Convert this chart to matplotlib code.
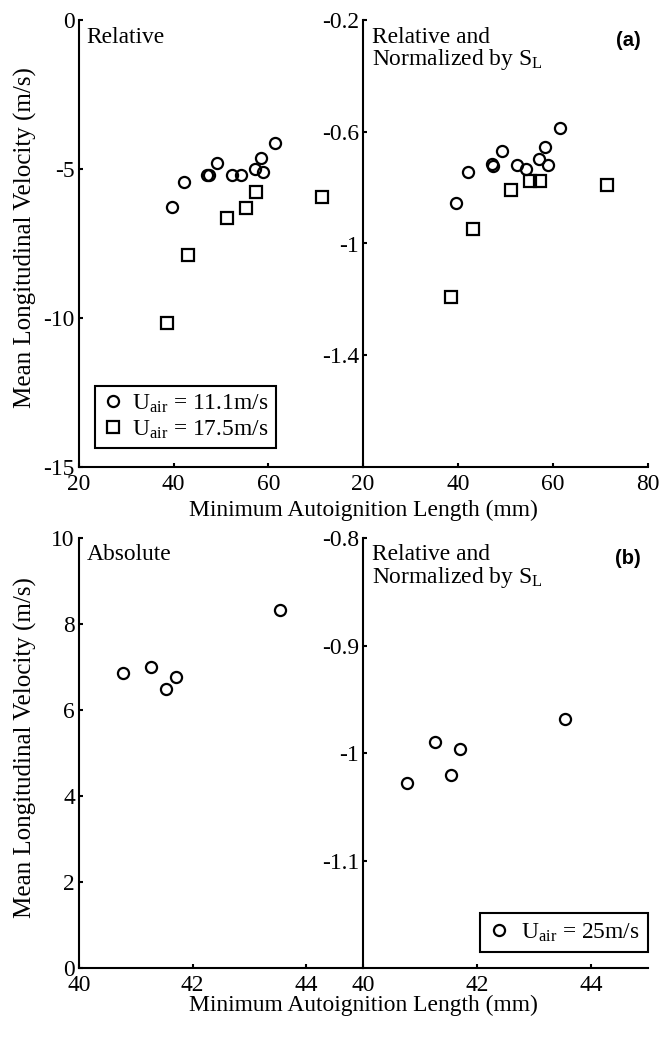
import matplotlib
matplotlib.use("Agg")
import matplotlib.pyplot as plt

# ---- data ----
# panel (a): two air velocities
len_a_111 = [39.6, 42.2, 47.1, 47.4, 49.2, 52.4, 54.3, 57.1, 58.4, 58.9, 61.5]
vel_a_111 = [-6.27, -5.43, -5.2, -5.2, -4.81, -5.2, -5.2, -5.01, -4.64, -5.09, -4.12]
norm_a_111 = [-0.855, -0.744, -0.714, -0.722, -0.668, -0.72, -0.734, -0.699, -0.654, -0.72, -0.585]

len_a_175 = [38.5, 43.1, 51.2, 55.2, 57.3, 71.3]
vel_a_175 = [-10.18, -7.89, -6.66, -6.32, -5.76, -5.95]
norm_a_175 = [-1.192, -0.949, -0.809, -0.776, -0.776, -0.789]

# panel (b): U_air = 25 m/s
len_b = [40.77, 41.26, 41.54, 41.71, 43.54]
vel_b = [6.85, 7.01, 6.5, 6.77, 8.33]
norm_b = [-1.028, -0.990, -1.020, -0.996, -0.968]

# tick labels
xt_a_left = [20, 40, 60]
xt_a_right = [20, 40, 60, 80]
yt_a_left = [0, -5, -10, -15]
yt_a_right = [-0.2, -0.6, -1, -1.4]
xt_b = [40, 42, 44]
yt_b_left = [0, 2, 4, 6, 8, 10]
yt_b_right = [-0.8, -0.9, -1, -1.1]

plt.rcParams["font.family"] = "Liberation Serif"
plt.rcParams["mathtext.fontset"] = "custom"
plt.rcParams["mathtext.rm"] = "Liberation Serif"
FS = 16.9

fig = plt.figure(figsize=(6.61, 10.43), dpi=100)

W, H = 661, 1043


def px_axes(x0, x1, ytop, ybot):
    return fig.add_axes([x0 / W, (H - ybot) / H, (x1 - x0) / W, (ybot - ytop) / H])


def style(ax, xlim, ylim, xt, yt):
    ax.set_xlim(xlim)
    ax.set_ylim(ylim)
    ax.set_xticks(xt)
    ax.set_xticklabels([f"{v:g}" for v in xt])
    ax.set_yticks(yt)
    ax.set_yticklabels([f"{v:g}" for v in yt])
    ax.spines["top"].set_visible(False)
    ax.spines["right"].set_visible(False)
    for s in ("left", "bottom"):
        ax.spines[s].set_linewidth(1.5)
    ax.tick_params(direction="in", length=3, width=1.5, labelsize=FS)
    ax.tick_params(axis="x", pad=5)
    ax.tick_params(axis="y", pad=3)
    ax.patch.set_alpha(0)


mk = dict(linestyle="none", markerfacecolor="none", markeredgecolor="k",
          markeredgewidth=1.6, markersize=8)

# ---- (a) ----
ax1 = px_axes(79, 363, 20, 467)
ax2 = px_axes(363, 648, 20, 467)

ax1.plot(len_a_111, vel_a_111, marker="o", label=r"U$_{\mathrm{air}}$ = 11.1m/s", **mk)
ax1.plot(len_a_175, vel_a_175, marker="s", label=r"U$_{\mathrm{air}}$ = 17.5m/s", **mk)
style(ax1, (20, 80), (-15, 0), xt_a_left, yt_a_left)
ax1.text(0.027, 0.985, "Relative", transform=ax1.transAxes, fontsize=FS, va="top")
leg = ax1.legend(loc="lower left", bbox_to_anchor=(0.056, 0.042), borderaxespad=0,
                 fontsize=FS, numpoints=1, handlelength=0.9, handletextpad=0.4,
                 borderpad=0.3, labelspacing=0.12, fancybox=False,
                 edgecolor="k", framealpha=1)
leg.get_frame().set_linewidth(1.5)

ax2.plot(len_a_111, norm_a_111, marker="o", **mk)
ax2.plot(len_a_175, norm_a_175, marker="s", **mk)
style(ax2, (20, 80), (-1.8, -0.2), xt_a_right, yt_a_right)
ax2.text(0.03, 0.985, "Relative and\nNormalized by S$_{\\mathrm{L}}$",
         transform=ax2.transAxes, fontsize=FS, va="top", linespacing=0.95)
ax2.text(0.975, 0.975, "(a)", transform=ax2.transAxes, fontsize=14.5,
         fontweight="bold", family="Liberation Sans", ha="right", va="top")

# ---- (b) ----
ax3 = px_axes(79, 363, 538, 968)
ax4 = px_axes(363, 648, 538, 968)

ax3.plot(len_b, vel_b, marker="o", **mk)
style(ax3, (40, 45), (0, 10), xt_b, yt_b_left)
ax3.text(0.027, 0.985, "Absolute", transform=ax3.transAxes, fontsize=FS, va="top")

ax4.plot(len_b, norm_b, marker="o", label=r"U$_{\mathrm{air}}$ = 25m/s", **mk)
style(ax4, (40, 45), (-1.2, -0.8), xt_b, yt_b_right)
ax4.text(0.03, 0.985, "Relative and\nNormalized by S$_{\\mathrm{L}}$",
         transform=ax4.transAxes, fontsize=FS, va="top", linespacing=0.95)
ax4.text(0.975, 0.975, "(b)", transform=ax4.transAxes, fontsize=14.5,
         fontweight="bold", family="Liberation Sans", ha="right", va="top")
leg2 = ax4.legend(loc="lower right", bbox_to_anchor=(1.0, 0.037), borderaxespad=0,
                  fontsize=FS, numpoints=1, handlelength=0.9, handletextpad=0.5,
                  borderpad=0.35, fancybox=False, edgecolor="k", framealpha=1)
leg2.get_frame().set_linewidth(1.5)

# shared axis labels
xl = "Minimum Autoignition Length (mm)"
yl = "Mean Longitudinal Velocity (m/s)"
fig.text(363 / W, 1 - 510 / H, xl, ha="center", va="center", fontsize=FS)
fig.text(363 / W, 1 - 1005 / H, xl, ha="center", va="center", fontsize=FS)
fig.text(25 / W, 1 - 238 / H, yl, ha="center", va="center", rotation=90, fontsize=18)
fig.text(25 / W, 1 - 748 / H, yl, ha="center", va="center", rotation=90, fontsize=18)

fig.savefig("out.png", dpi=100)
